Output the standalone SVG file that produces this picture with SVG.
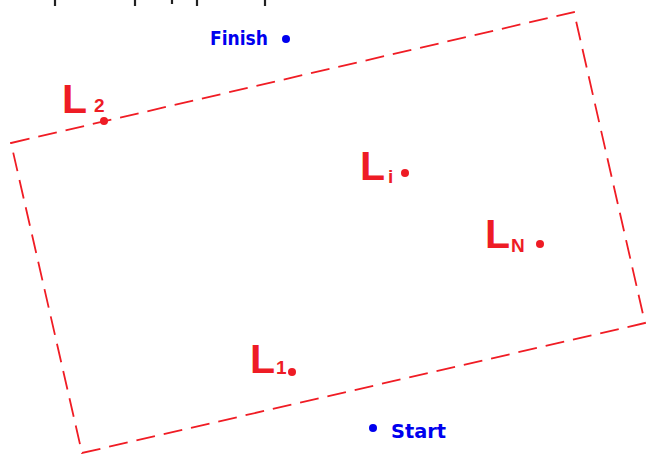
<svg xmlns="http://www.w3.org/2000/svg" width="648" height="454" viewBox="0 0 648 454">
<style>
.box{fill:none;stroke:#f01c24;stroke-width:1.8;stroke-dasharray:19 9}
.big{font-family:"Liberation Sans",Arial,sans-serif;font-weight:bold;font-size:41px;fill:#ee1c25}
.sub{font-family:"Liberation Sans",Arial,sans-serif;font-weight:bold;font-size:19px;fill:#ee1c25}
.blue{font-family:"DejaVu Sans",sans-serif;font-weight:bold;font-size:19px;fill:#0000ee}
.rd{fill:#ee1c25}
.bd{fill:#0000ee}
.tick{stroke:#222;stroke-width:2.2}
</style>
<g id="top-fragment">
<line class="tick" x1="55" y1="0" x2="55" y2="6"/>
<line class="tick" x1="135" y1="0" x2="135" y2="6"/>
<line class="tick" x1="172" y1="0" x2="172" y2="4"/>
<line class="tick" x1="197" y1="0" x2="197" y2="6"/>
<line class="tick" x1="265" y1="0" x2="265" y2="6"/>
</g>
<g id="connectors">
<polygon class="box" points="11,143 574,12 645,323 82,453"/>
</g>
<g id="L2">
<text class="big" x="62" y="113">L</text>
<text class="sub" x="94" y="112">2</text>
<circle class="rd" cx="104" cy="121" r="4"/>
</g>
<g id="Li">
<text class="big" x="360" y="180">L</text>
<text class="sub" x="388" y="183">i</text>
<circle class="rd" cx="405" cy="173" r="4"/>
</g>
<g id="LN">
<text class="big" x="485" y="248">L</text>
<text class="sub" x="511" y="252">N</text>
<circle class="rd" cx="540" cy="244" r="4"/>
</g>
<g id="L1">
<text class="big" x="250" y="373">L</text>
<text class="sub" x="276" y="374">1</text>
<circle class="rd" cx="292" cy="372" r="4"/>
</g>
<g id="Start">
<circle class="bd" cx="373" cy="428" r="4"/>
<text class="blue" x="391" y="438" textLength="55" lengthAdjust="spacingAndGlyphs">Start</text>
</g>
<g id="Finish">
<text class="blue" x="210" y="45" textLength="58" lengthAdjust="spacingAndGlyphs">Finish</text>
<circle class="bd" cx="286" cy="39" r="4"/>
</g>
</svg>
